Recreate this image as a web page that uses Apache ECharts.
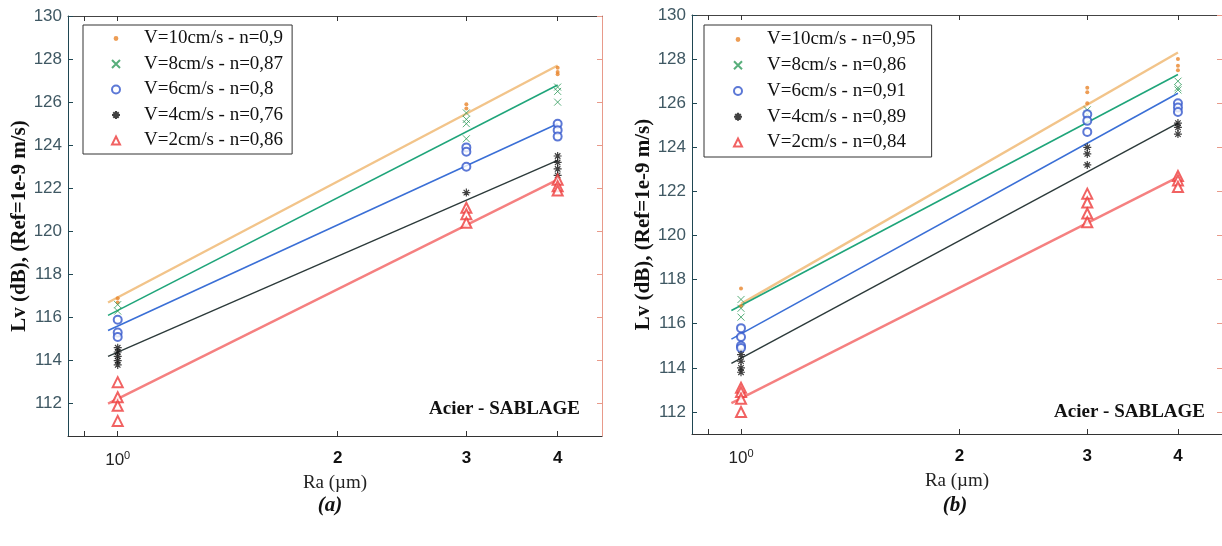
<!DOCTYPE html>
<html><head><meta charset="utf-8">
<script src="https://cdn.jsdelivr.net/npm/echarts@6/dist/echarts.min.js"></script>
<style>html,body{margin:0;padding:0;background:#fff}#c{width:1222px;height:546px}</style>
</head><body><div id="c"></div>
<script>
// ---------- DATA ----------
const xTickValues = [0.9, 1, 2, 3, 4];
const xLabelValues = [1, 2, 3, 4];
const yTickValues = [112, 114, 116, 118, 120, 122, 124, 126, 128, 130];

const namesA = ['V=10cm/s - n=0,9', 'V=8cm/s - n=0,87', 'V=6cm/s - n=0,8', 'V=4cm/s - n=0,76', 'V=2cm/s - n=0,86'];
const namesB = ['V=10cm/s - n=0,95', 'V=8cm/s - n=0,86', 'V=6cm/s - n=0,91', 'V=4cm/s - n=0,89', 'V=2cm/s - n=0,84'];

// panel (a) measurements [Ra, Lv]
const a10 = [[1,116.9],[1,116.7],[3,125.9],[3,125.7],[4,127.6],[4,127.4],[4,127.3]];
const a8  = [[1,116.6],[1,116.3],[3,125.5],[3,125.2],[3,125.0],[3,124.3],[4,126.7],[4,126.5],[4,126.0]];
const a6  = [[1,115.9],[1,115.3],[1,115.1],[3,123.9],[3,123.7],[3,123.0],[4,125.0],[4,124.7],[4,124.4]];
const a4  = [[1,114.6],[1,114.4],[1,114.2],[1,114.0],[1,113.8],[3,121.8],[4,123.5],[4,123.2],[4,122.9],[4,122.6]];
const a2  = [[1,113.0],[1,112.3],[1,111.9],[1,111.2],[3,121.1],[3,120.8],[3,120.4],[4,122.4],[4,122.1],[4,121.9]];
// panel (a) fitted lines
const fa10 = [[0.97,116.7],[4,127.7]];
const fa8  = [[0.97,116.1],[4,126.8]];
const fa6  = [[0.97,115.4],[4,125.0]];
const fa4  = [[0.97,114.2],[4,123.3]];
const fa2  = [[0.97,112.0],[4,122.4]];

// panel (b) measurements
const b10 = [[1,117.6],[1,116.8],[3,126.7],[3,126.5],[3,126.0],[4,128.0],[4,127.7],[4,127.5]];
const b8  = [[1,117.1],[1,116.7],[1,116.3],[3,125.7],[3,125.5],[4,127.0],[4,126.7],[4,126.6]];
const b6  = [[1,115.8],[1,115.4],[1,115.0],[1,114.9],[3,125.5],[3,125.2],[3,124.7],[4,126.0],[4,125.8],[4,125.6]];
const b4  = [[1,114.6],[1,114.3],[1,114.0],[1,113.8],[3,124.0],[3,123.7],[3,123.2],[4,125.1],[4,124.9],[4,124.6]];
const b2  = [[1,113.1],[1,112.9],[1,112.6],[1,112.0],[3,121.9],[3,121.5],[3,121.0],[3,120.6],[4,122.7],[4,122.5],[4,122.2]];
// panel (b) fitted lines
const fb10 = [[1,116.9],[4,128.3]];
const fb8  = [[0.97,116.6],[4,127.3]];
const fb6  = [[0.97,115.3],[4,126.45]];
const fb4  = [[0.97,114.2],[4,125.1]];
const fb2  = [[0.97,112.4],[4,122.65]];

// ---------- STYLES ----------
const SYM_X = 'path://M0 0L10 10M10 0L0 10';
const SYM_STAR = 'path://M5 0L5 10M0 5L10 5M1.6 1.6L8.4 8.4M8.4 1.6L1.6 8.4';
const DOT_ICON = 'path://M0 0L0.01 0M10 10L10.01 10M2 5A3 3 0 1 0 8 5A3 3 0 1 0 2 5Z';
const markStyles = [
  {symbol:'circle', symbolSize:4, itemStyle:{color:'#e8852a'}},
  {symbol:SYM_X, symbolSize:7, itemStyle:{color:'rgba(0,0,0,0)', borderColor:'#2e9a5a', borderWidth:1}},
  {symbol:'emptyCircle', symbolSize:8, itemStyle:{color:'#3356cc', borderWidth:1.2}},
  {symbol:SYM_STAR, symbolSize:8, itemStyle:{color:'rgba(0,0,0,0)', borderColor:'#111', borderWidth:1.2}},
  {symbol:'emptyTriangle', symbolSize:10, itemStyle:{color:'#ee3b3b', borderWidth:1.2}}
];
const lineColors = ['#f2c48a', '#1fa57a', '#3a6fd6', '#2c3a3a', '#f58080'];
const lineWidths = [2.4, 1.6, 1.6, 1.4, 2.4];

const axisCol = '#1f4652';
const labCol = '#3f5863';

function yAxisDef(grid, min, pos) {
  const left = pos === 'left';
  return {
    gridIndex: grid, type: 'value', min: min, max: 130, position: pos,
    splitLine: {show: false},
    axisLine: {show: true, lineStyle: {color: left ? axisCol : '#e89a8a', width: 1}},
    axisTick: {show: true, inside: true, length: 5, customValues: yTickValues, lineStyle: {color: left ? axisCol : '#e89a8a'}},
    axisLabel: {show: left, customValues: yTickValues, color: labCol, fontSize: 17, fontFamily: 'Liberation Sans', margin: 6},
    name: left ? 'Lv (dB), (Ref=1e-9 m/s)' : '',
    nameLocation: 'middle', nameRotate: 90,
    nameGap: grid === 0 ? 37 : 32,
    nameTextStyle: {fontFamily: 'Liberation Serif', fontWeight: 'bold', fontSize: 21, color: '#111'}
  };
}
function xAxisDef(grid, min, max, pos) {
  const bottom = pos === 'bottom';
  return {
    gridIndex: grid, type: 'log', logBase: 10, min: min, max: max, position: pos,
    splitLine: {show: false}, minorTick: {show: false}, minorSplitLine: {show: false},
    axisLine: {show: true, lineStyle: {color: bottom ? '#333' : '#444', width: 1}},
    axisTick: {show: true, inside: true, length: 5, customValues: xTickValues, lineStyle: {color: '#333'}},
    axisLabel: {
      show: bottom, customValues: xLabelValues, margin: 14,
      formatter: function (v) { return Math.abs(v - 1) < 1e-6 ? '{n|10}{s|0}' : '{b|' + Math.round(v) + '}'; },
      rich: {
        n: {fontSize: 17, fontFamily: 'Liberation Sans', color: '#222'},
        s: {fontSize: 11, fontFamily: 'Liberation Sans', color: '#222', verticalAlign: 'top', padding: [0, 0, 9, 0]},
        b: {fontSize: 17, fontFamily: 'Liberation Sans', fontWeight: 'bold', color: '#111'}
      }
    },
    name: bottom ? 'Ra (µm)' : '', nameLocation: 'middle', nameGap: 35,
    nameTextStyle: {fontFamily: 'Liberation Serif', fontSize: 19, color: '#222'}
  };
}

const pointSets = [[a10, a8, a6, a4, a2], [b10, b8, b6, b4, b2]];
const fitSets = [[fa10, fa8, fa6, fa4, fa2], [fb10, fb8, fb6, fb4, fb2]];
const nameSets = [namesA, namesB];

const series = [];
for (let p = 0; p < 2; p++) {
  for (let i = 0; i < 5; i++) {
    series.push({
      type: 'line', name: 'fit' + p + i, xAxisIndex: p, yAxisIndex: p,
      data: fitSets[p][i], showSymbol: false, symbol: 'none', silent: true, z: 1,
      lineStyle: {color: lineColors[i], width: lineWidths[i]}
    });
  }
  for (let i = 0; i < 5; i++) {
    series.push(Object.assign({
      type: 'scatter', name: nameSets[p][i], xAxisIndex: p, yAxisIndex: p,
      data: pointSets[p][i], z: 3
    }, JSON.parse(JSON.stringify(markStyles[i]))));
  }
}

function legendDef(p, left, padL, txtPad, gap, padV, padR) {
  return {
    orient: 'vertical', left: left, top: 25,
    borderColor: '#333', borderWidth: 1, borderRadius: 0,
    padding: [padV, padR, padV, padL], itemGap: gap, itemWidth: 8, itemHeight: 8,
    textStyle: {fontFamily: 'Liberation Serif', fontSize: 19, color: '#111', padding: [0, 0, 0, txtPad]},
    data: nameSets[p].map((n, i) => i === 0 ? {name: n, icon: DOT_ICON} : {name: n}),
    selectedMode: false
  };
}

const chart = echarts.init(document.getElementById('c'), null, {renderer: 'canvas'});
chart.setOption({
  animation: false,
  backgroundColor: '#fff',
  grid: [
    {left: 68, top: 16, width: 534, height: 420},
    {left: 692, top: 15, width: 537, height: 419}
  ],
  xAxis: [
    xAxisDef(0, 0.855, 4.6, 'bottom'),
    xAxisDef(1, 0.856, 4.6, 'bottom'),
    xAxisDef(0, 0.855, 4.6, 'top'),
    xAxisDef(1, 0.856, 4.6, 'top')
  ],
  yAxis: [
    yAxisDef(0, 110.5, 'left'),
    yAxisDef(1, 111, 'left'),
    yAxisDef(0, 110.5, 'right'),
    yAxisDef(1, 111, 'right')
  ],
  legend: [legendDef(0, 83, 28, 19, 6.5, 4, 9), legendDef(1, 704, 29, 20, 6.75, 5, 16)],
  series: series,
  graphic: [
    {type: 'text', x: 580, y: 409, style: {text: 'Acier - SABLAGE', font: 'bold 19px "Liberation Serif"', fill: '#111', textAlign: 'right', textVerticalAlign: 'middle'}},
    {type: 'text', x: 1205, y: 412, style: {text: 'Acier - SABLAGE', font: 'bold 19px "Liberation Serif"', fill: '#111', textAlign: 'right', textVerticalAlign: 'middle'}},
    {type: 'text', x: 330, y: 506, style: {text: '(a)', font: 'italic bold 21px "Liberation Serif"', fill: '#111', textAlign: 'center', textVerticalAlign: 'middle'}},
    {type: 'text', x: 955, y: 506, style: {text: '(b)', font: 'italic bold 21px "Liberation Serif"', fill: '#111', textAlign: 'center', textVerticalAlign: 'middle'}}
  ]
});
</script></body></html>
